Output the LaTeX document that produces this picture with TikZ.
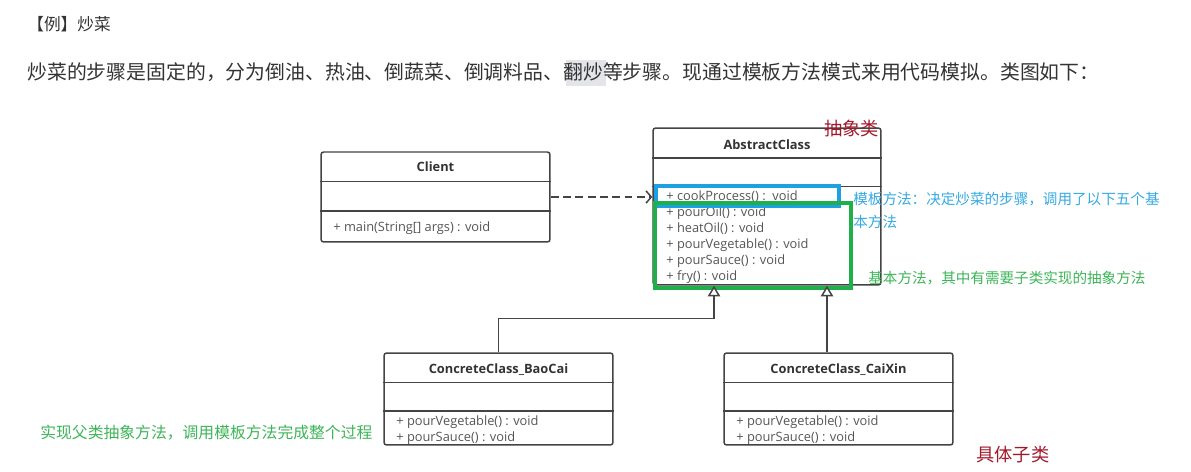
\documentclass[tikz,border=0pt]{standalone}
\usepackage{fontspec}
\setmainfont{Noto Sans CJK SC}
\newfontfamily\cjk{Noto Sans CJK SC}
\newfontfamily\umlfont{Open Sans}
\usetikzlibrary{arrows.meta,positioning}

\definecolor{txtgray}{HTML}{333333}
\definecolor{linegray}{HTML}{444444}
\definecolor{methgray}{HTML}{555555}
\definecolor{tplblue}{HTML}{1DA1E2}
\definecolor{basegreen}{HTML}{20B04B}
\definecolor{noteblue}{HTML}{35A9E3}
\definecolor{notegreen}{HTML}{3DB557}
\definecolor{notered}{HTML}{A3192C}
\definecolor{markgray}{HTML}{E3E5E9}

\tikzset{
  classbox/.style={draw=linegray, line width=0.85pt, rounded corners=1.5pt, inner sep=0pt},
  divider/.style={draw=linegray, line width=0.85pt},
  classtitle/.style={font=\umlfont\fontsize{7.3}{8}\selectfont\bfseries, text=txtgray, inner sep=0pt},
  method/.style={font=\umlfont\fontsize{7.3}{8}\selectfont, text=methgray, inner sep=0pt, anchor=west},
  depend/.style={draw=linegray, line width=0.85pt, dashed, dash pattern=on 4.5pt off 2.5pt, -{Straight Barb[length=3pt,width=7pt]}},
  inherit/.style={draw=linegray, line width=0.85pt, -{Triangle[open,fill=white,length=6pt,width=7pt]}},
  note/.style={font=\cjk, inner sep=0pt, anchor=west}
}

\begin{document}
\begin{tikzpicture}[x=0.02cm, y=-0.02cm]
  \useasboundingbox (0,0) rectangle (1191,472);

  % heading and text
  \fill[markgray] (566,60) rectangle (606,86);
  \node[note, text=txtgray, font=\cjk\fontsize{9.5}{11}\selectfont] (head) at (27,24) {【例】炒菜};
  \node[note, text=txtgray, font=\cjk\fontsize{11.3}{13}\selectfont] (intro) at (27,72)
    {炒菜的步骤是固定的，分为倒油、热油、倒蔬菜、倒调料品、翻炒等步骤。现通过模板方法模式来用代码模拟。类图如下：};

  % classes
  \node[classbox, minimum width=4.58cm, minimum height=1.8cm] (client) at (435.5,197) {};
  \node[classbox, minimum width=4.56cm, minimum height=3.14cm] (abstract) at (767,206.5) {};
  \node[classbox, minimum width=4.58cm, minimum height=1.84cm] (baocai) at (498.5,399) {};
  \node[classbox, minimum width=4.58cm, minimum height=1.84cm] (caixin) at (838.5,399) {};

  \draw[divider] ([yshift=-0.6cm]client.north west) -- ([yshift=-0.6cm]client.north east);
  \draw[divider] ([yshift=-1.2cm]client.north west) -- ([yshift=-1.2cm]client.north east);
  \draw[divider] ([yshift=-0.61cm]abstract.north west) -- ([yshift=-0.61cm]abstract.north east);
  \draw[divider] ([yshift=-1.19cm]abstract.north west) -- ([yshift=-1.19cm]abstract.north east);
  \draw[divider] ([yshift=-0.6cm]baocai.north west) -- ([yshift=-0.6cm]baocai.north east);
  \draw[divider] ([yshift=-1.18cm]baocai.north west) -- ([yshift=-1.18cm]baocai.north east);
  \draw[divider] ([yshift=-0.6cm]caixin.north west) -- ([yshift=-0.6cm]caixin.north east);
  \draw[divider] ([yshift=-1.18cm]caixin.north west) -- ([yshift=-1.18cm]caixin.north east);

  \node[classtitle] (clientname) at ([yshift=-0.31cm]client.north) {Client};
  \node[classtitle] (abstractname) at ([yshift=-0.34cm]abstract.north) {AbstractClass};
  \node[classtitle] (baocainame) at ([yshift=-0.34cm]baocai.north) {ConcreteClass\_BaoCai};
  \node[classtitle] (caixinname) at ([yshift=-0.34cm]caixin.north) {ConcreteClass\_CaiXin};

  \node[method] (main) at (333,228) {+ main(String[] args) : void};

  \node[method] (cook) at (666,197) {+ cookProcess() :\ \ void};
  \node[method] (oil) at (666,213) {+ pourOil() : void};
  \node[method] (heat) at (666,229) {+ heatOil() : void};
  \node[method] (veg) at (666,245) {+ pourVegetable() : void};
  \node[method] (sauce) at (666,261) {+ pourSauce() : void};
  \node[method] (fry) at (666,277) {+ fry() : void};

  \node[method] (bveg) at (396,422) {+ pourVegetable() : void};
  \node[method] (bsauce) at (396,438) {+ pourSauce() : void};
  \node[method] (cveg) at (736,422) {+ pourVegetable() : void};
  \node[method] (csauce) at (736,438) {+ pourSauce() : void};

  % highlight frames
  \draw[tplblue, line width=2.2pt] (656,186) rectangle (839,206);
  \draw[basegreen, line width=2.2pt] (655,203) rectangle (851,288);

  % relations
  \draw[depend] (client.east) -- (client.east -| abstract.west);
  \coordinate (lefttip) at ([xshift=-1.06cm]abstract.south);
  \coordinate (righttip) at ([xshift=1.2cm]abstract.south);
  \draw[inherit] (baocai.north) -- ++(0,-34) -| (lefttip);
  \draw[inherit] (righttip |- caixin.north) -- (righttip);

  % notes
  \node[note, text=notered, font=\cjk\fontsize{10.4}{12}\selectfont] (abstractnote) at (824,129) {抽象类};
  \node[note, text=notered, font=\cjk\fontsize{10.4}{12}\selectfont] (concretenote) at (976,455) {具体子类};
  \node[note, text=noteblue, font=\cjk\fontsize{8.3}{13.2}\selectfont, anchor=north west, align=left] (tplnote) at (853,192)
    {模板方法：决定炒菜的步骤，调用了以下五个基\\本方法};
  \node[note, text=notegreen, font=\cjk\fontsize{8.3}{10}\selectfont] (basenote) at (868,278) {基本方法，其中有需要子类实现的抽象方法};
  \node[note, text=notegreen, font=\cjk\fontsize{9}{11}\selectfont] (subnote) at (40,433) {实现父类抽象方法，调用模板方法完成整个过程};
\end{tikzpicture}
\end{document}
